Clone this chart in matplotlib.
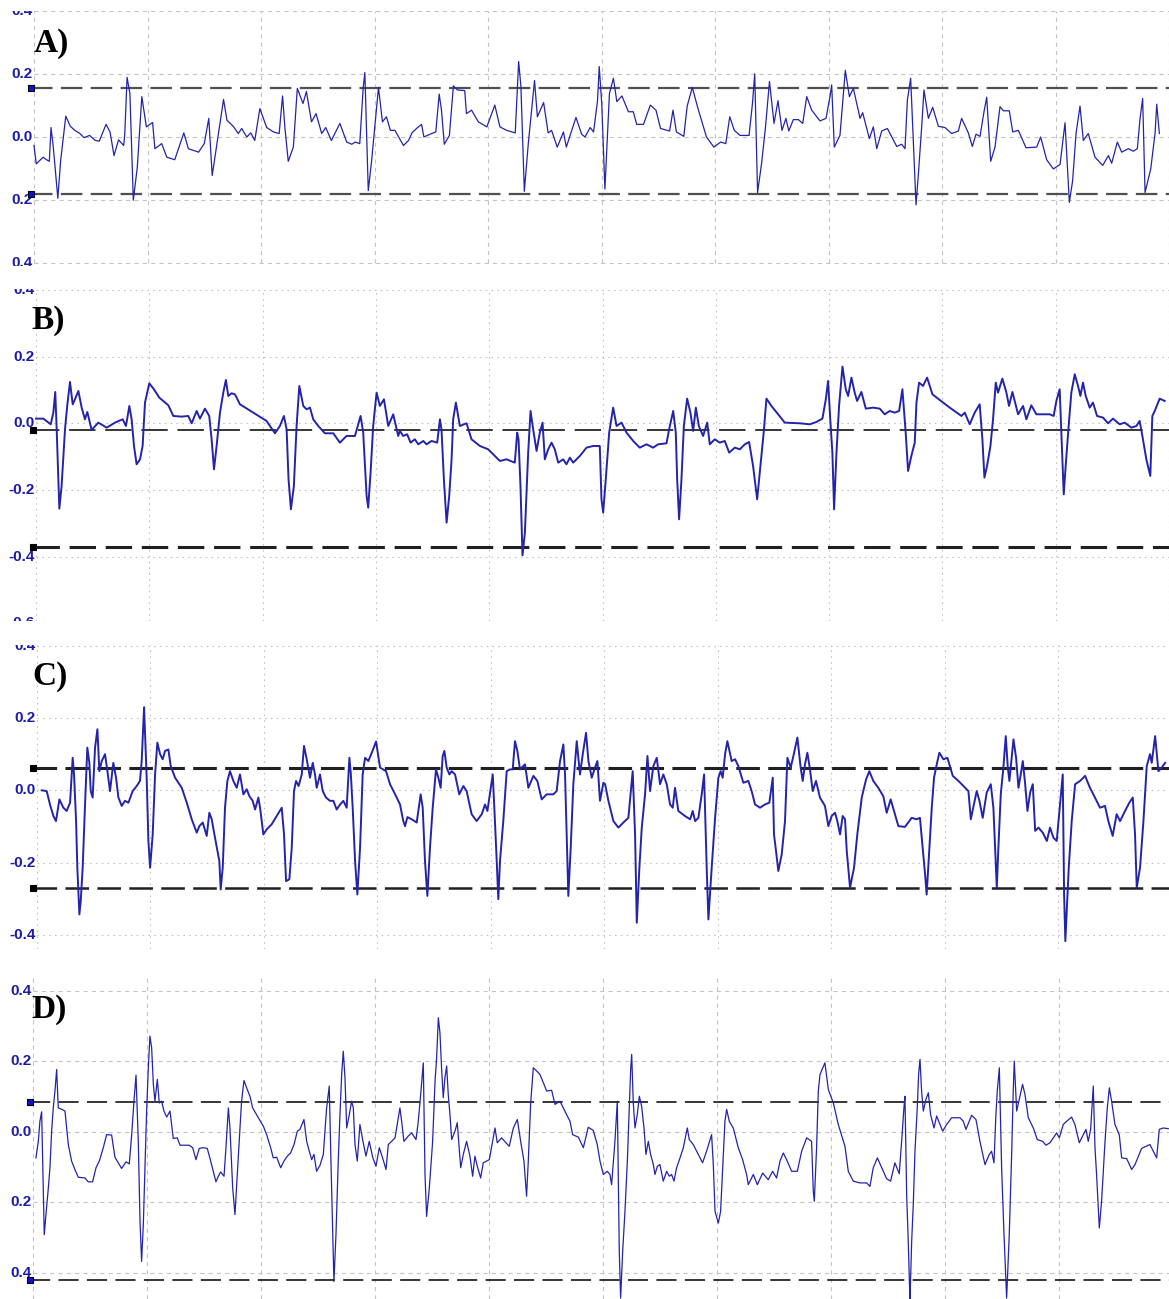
import matplotlib.pyplot as plt

plt.rcParams['lines.scale_dashes'] = False

W, H = 1169, 1299

# sygnaly (czas w dzialkach siatki, amplituda)
sig_a = [(0.00, -0.027), (0.02, -0.085), (0.08, -0.064), (0.11, -0.072), (0.135, -0.077), (0.15, 0.030),
         (0.17, -0.032), (0.21, -0.194), (0.235, -0.074), (0.28, 0.066), (0.32, 0.034), (0.36, 0.021),
         (0.405, 0.011), (0.44, -0.002), (0.49, 0.005), (0.54, -0.011), (0.575, -0.013), (0.635, 0.040),
         (0.67, 0.016), (0.705, -0.059), (0.745, -0.009), (0.79, -0.027), (0.80, 0.011), (0.82, 0.189),
         (0.845, 0.138), (0.875, -0.200), (0.91, -0.096), (0.95, 0.128), (0.99, 0.032), (1.045, 0.046),
         (1.065, -0.037), (1.125, -0.021), (1.17, -0.064), (1.24, -0.072), (1.32, 0.013), (1.36, -0.037),
         (1.45, -0.048), (1.50, -0.021), (1.54, 0.059), (1.57, -0.122), (1.625, 0.011), (1.67, 0.119),
         (1.70, 0.053), (1.755, 0.034), (1.80, 0.011), (1.83, 0.027), (1.875, 0.0), (1.91, 0.013),
         (1.945, -0.011), (1.99, 0.090), (2.05, 0.030), (2.11, 0.016), (2.16, 0.011), (2.19, 0.130),
         (2.21, 0.032), (2.24, -0.077), (2.285, -0.032), (2.32, 0.154), (2.37, 0.106), (2.40, 0.144),
         (2.445, 0.048), (2.485, 0.074), (2.535, 0.011), (2.57, 0.030), (2.62, -0.011), (2.695, 0.043),
         (2.755, -0.016), (2.80, -0.023), (2.83, -0.016), (2.87, -0.021), (2.90, 0.154), (2.915, 0.204),
         (2.945, -0.170), (2.975, -0.074), (3.035, 0.157), (3.07, 0.048), (3.105, 0.064), (3.14, 0.021),
         (3.18, 0.021), (3.225, -0.008), (3.255, -0.027), (3.30, -0.011), (3.33, 0.013), (3.37, 0.027),
         (3.415, 0.040), (3.435, 0.0), (3.49, 0.009), (3.54, 0.016), (3.57, 0.136), (3.59, 0.085),
         (3.615, -0.023), (3.66, 0.005), (3.695, 0.162), (3.73, 0.149), (3.795, 0.147), (3.81, 0.074),
         (3.855, 0.085), (3.915, 0.048), (3.99, 0.032), (4.06, 0.101), (4.105, 0.032), (4.165, 0.021),
         (4.24, 0.013), (4.27, 0.239), (4.29, 0.160), (4.32, -0.172), (4.355, -0.021), (4.41, 0.179),
         (4.435, 0.064), (4.49, 0.109), (4.53, 0.013), (4.56, 0.021), (4.61, -0.032), (4.665, 0.016),
         (4.69, -0.032), (4.775, 0.062), (4.825, 0.009), (4.855, 0.0), (4.90, 0.030), (4.93, 0.016),
         (4.965, 0.115), (4.98, 0.223), (5.002, 0.106), (5.03, -0.165), (5.07, 0.138), (5.105, 0.186),
         (5.135, 0.112), (5.18, 0.130), (5.237, 0.080), (5.28, 0.080), (5.31, 0.040), (5.37, 0.040),
         (5.43, 0.101), (5.48, 0.085), (5.52, 0.027), (5.60, 0.019), (5.63, 0.085), (5.66, 0.016),
         (5.725, 0.002), (5.755, 0.098), (5.80, 0.157), (5.85, 0.090), (5.925, 0.0), (5.99, -0.032),
         (6.05, -0.016), (6.095, -0.021), (6.13, 0.064), (6.17, 0.021), (6.22, 0.005), (6.30, 0.005),
         (6.33, 0.106), (6.35, 0.200), (6.375, -0.176), (6.41, -0.085), (6.445, 0.032), (6.48, 0.176),
         (6.52, 0.043), (6.555, 0.115), (6.59, 0.021), (6.625, 0.059), (6.65, 0.019), (6.69, 0.055),
         (6.735, 0.055), (6.773, 0.043), (6.808, 0.128), (6.852, 0.085), (6.925, 0.051), (6.978, 0.059),
         (7.013, 0.128), (7.028, 0.165), (7.051, -0.032), (7.101, 0.005), (7.131, 0.138), (7.148, 0.211),
         (7.184, 0.128), (7.219, 0.154), (7.278, 0.059), (7.301, 0.077), (7.36, -0.005), (7.395, 0.032),
         (7.425, -0.037), (7.469, 0.019), (7.519, 0.027), (7.601, -0.030), (7.645, -0.023), (7.674, -0.037),
         (7.695, 0.117), (7.724, 0.186), (7.771, -0.215), (7.792, -0.117), (7.821, 0.032), (7.841, 0.149),
         (7.88, 0.059), (7.918, 0.094), (7.968, 0.034), (8.026, 0.030), (8.085, 0.011), (8.144, 0.019),
         (8.173, 0.059), (8.232, 0.013), (8.267, -0.030), (8.30, 0.009), (8.335, 0.002), (8.37, 0.080),
         (8.394, 0.126), (8.429, -0.077), (8.467, -0.032), (8.511, 0.096), (8.541, 0.083), (8.593, 0.083),
         (8.623, 0.016), (8.673, 0.021), (8.74, -0.034), (8.834, -0.032), (8.869, 0.0), (8.922, -0.072),
         (8.981, -0.101), (9.04, -0.087), (9.084, 0.045), (9.122, -0.207), (9.151, -0.138), (9.181, 0.011),
         (9.216, 0.098), (9.245, -0.011), (9.289, 0.011), (9.348, -0.064), (9.416, -0.090), (9.466, -0.059),
         (9.495, -0.083), (9.545, -0.016), (9.583, -0.048), (9.642, -0.037), (9.686, -0.045), (9.721, -0.037),
         (9.745, 0.059), (9.768, 0.122), (9.789, -0.176), (9.839, -0.101), (9.877, 0.011), (9.892, 0.104),
         (9.915, 0.011)]

sig_b = [(0.0, 0.014), (0.065, 0.014), (0.13, -0.003), (0.153, 0.032), (0.17, 0.094), (0.182, -0.013),
         (0.206, -0.256), (0.226, -0.188), (0.256, -0.018), (0.276, 0.054), (0.30, 0.124), (0.324, 0.057),
         (0.344, 0.072), (0.374, 0.097), (0.403, 0.047), (0.432, 0.012), (0.453, 0.034), (0.491, -0.020),
         (0.55, 0.002), (0.624, -0.013), (0.697, 0.002), (0.765, 0.012), (0.794, -0.008), (0.824, 0.052),
         (0.844, 0.012), (0.865, -0.068), (0.888, -0.123), (0.918, -0.108), (0.941, -0.068), (0.962, 0.062),
         (1.00, 0.120), (1.041, 0.102), (1.088, 0.077), (1.168, 0.054), (1.212, 0.022), (1.285, 0.020),
         (1.344, 0.022), (1.374, 0.0), (1.418, 0.037), (1.447, 0.014), (1.491, 0.044), (1.529, 0.022),
         (1.55, -0.048), (1.571, -0.138), (1.594, -0.068), (1.624, 0.032), (1.653, 0.092), (1.676, 0.130),
         (1.697, 0.082), (1.726, 0.090), (1.756, 0.087), (1.80, 0.057), (1.918, 0.032), (2.035, 0.007),
         (2.109, -0.030), (2.153, -0.008), (2.188, 0.022), (2.212, -0.018), (2.229, -0.168), (2.25, -0.258),
         (2.276, -0.188), (2.30, -0.008), (2.324, 0.112), (2.359, 0.052), (2.388, 0.042), (2.418, 0.047),
         (2.447, 0.012), (2.491, -0.008), (2.55, -0.030), (2.624, -0.030), (2.682, -0.058), (2.741, -0.038),
         (2.815, -0.038), (2.865, 0.022), (2.888, -0.028), (2.918, -0.218), (2.932, -0.253), (2.953, -0.148),
         (2.976, -0.008), (3.006, 0.092), (3.035, 0.052), (3.071, 0.072), (3.109, -0.008), (3.153, 0.027),
         (3.197, -0.038), (3.212, -0.023), (3.241, -0.038), (3.276, -0.033), (3.306, -0.058), (3.344, -0.048),
         (3.374, -0.063), (3.418, -0.053), (3.447, -0.063), (3.491, -0.053), (3.541, -0.058), (3.565, 0.012),
         (3.579, -0.018), (3.60, -0.168), (3.624, -0.298), (3.647, -0.218), (3.668, -0.108), (3.682, 0.012),
         (3.706, 0.062), (3.726, 0.022), (3.741, -0.008), (3.80, 0.0), (3.844, -0.048), (3.918, -0.068),
         (3.991, -0.078), (4.035, -0.093), (4.094, -0.113), (4.153, -0.108), (4.226, -0.118), (4.247, -0.028),
         (4.259, -0.048), (4.276, -0.188), (4.294, -0.396), (4.315, -0.328), (4.344, -0.088), (4.365, 0.037),
         (4.388, -0.018), (4.418, -0.083), (4.447, -0.028), (4.471, 0.002), (4.491, -0.108), (4.521, -0.078),
         (4.55, -0.058), (4.579, -0.078), (4.609, -0.118), (4.653, -0.108), (4.682, -0.123), (4.712, -0.103),
         (4.741, -0.118), (4.80, -0.098), (4.859, -0.073), (4.918, -0.068), (4.976, -0.068), (4.991, -0.228),
         (5.006, -0.268), (5.029, -0.168), (5.059, -0.028), (5.094, 0.047), (5.124, -0.008), (5.168, 0.002),
         (5.212, -0.028), (5.271, -0.053), (5.329, -0.073), (5.388, -0.063), (5.447, -0.073), (5.491, -0.063),
         (5.565, -0.060), (5.588, -0.018), (5.624, 0.037), (5.647, -0.028), (5.659, -0.168), (5.676, -0.288),
         (5.697, -0.168), (5.718, -0.008), (5.747, 0.074), (5.776, 0.032), (5.80, -0.023), (5.824, 0.047),
         (5.85, -0.008), (5.888, -0.038), (5.924, 0.002), (5.947, -0.063), (5.991, -0.048), (6.035, -0.058),
         (6.079, -0.053), (6.118, -0.088), (6.168, -0.073), (6.212, -0.078), (6.256, -0.063), (6.294, -0.056),
         (6.329, -0.128), (6.365, -0.228), (6.394, -0.128), (6.424, -0.023), (6.447, 0.074), (6.491, 0.052),
         (6.55, 0.027), (6.609, 0.002), (6.741, 0.0), (6.829, -0.003), (6.888, 0.004), (6.941, 0.014),
         (6.971, 0.072), (6.991, 0.127), (7.012, 0.002), (7.029, -0.088), (7.044, -0.258), (7.065, -0.088),
         (7.088, 0.052), (7.118, 0.170), (7.147, 0.102), (7.168, 0.082), (7.197, 0.137), (7.226, 0.092),
         (7.247, 0.067), (7.285, 0.094), (7.324, 0.044), (7.388, 0.047), (7.447, 0.044), (7.491, 0.027),
         (7.535, 0.037), (7.579, 0.032), (7.618, 0.037), (7.647, 0.102), (7.676, -0.028), (7.697, -0.143),
         (7.726, -0.098), (7.756, -0.058), (7.771, 0.062), (7.794, 0.122), (7.829, 0.112), (7.865, 0.137),
         (7.912, 0.087), (7.976, 0.070), (8.065, 0.047), (8.168, 0.022), (8.197, 0.032), (8.241, -0.003),
         (8.285, 0.032), (8.329, 0.057), (8.353, -0.048), (8.371, -0.163), (8.394, -0.128), (8.424, -0.068),
         (8.447, 0.012), (8.471, 0.122), (8.491, 0.092), (8.529, 0.134), (8.565, 0.092), (8.588, 0.052),
         (8.618, 0.094), (8.668, 0.027), (8.712, 0.052), (8.741, 0.012), (8.785, 0.054), (8.829, 0.027),
         (8.888, 0.027), (8.947, 0.027), (8.982, 0.022), (9.006, 0.067), (9.035, 0.102), (9.05, -0.028),
         (9.071, -0.213), (9.088, -0.128), (9.112, -0.018), (9.138, 0.092), (9.168, 0.147), (9.197, 0.112),
         (9.218, 0.082), (9.241, 0.122), (9.265, 0.082), (9.30, 0.047), (9.329, 0.062), (9.365, 0.022),
         (9.418, 0.017), (9.462, 0.0), (9.506, 0.014), (9.565, -0.003), (9.609, 0.002), (9.668, -0.013),
         (9.712, -0.008), (9.741, 0.007), (9.765, -0.038), (9.80, -0.108), (9.835, -0.158), (9.853, 0.022),
         (9.874, 0.037), (9.918, 0.074), (9.962, 0.067)]

sig_c = [(0.044, 0.0), (0.088, -0.002), (0.117, -0.039), (0.147, -0.071), (0.170, -0.085), (0.200, -0.025),
         (0.235, -0.048), (0.264, -0.057), (0.294, -0.034), (0.317, 0.090), (0.329, 0.044), (0.347, -0.085),
         (0.358, -0.214), (0.376, -0.343), (0.388, -0.306), (0.405, -0.214), (0.426, -0.039), (0.446, 0.118),
         (0.464, 0.076), (0.476, -0.002), (0.493, -0.020), (0.514, 0.118), (0.535, 0.169), (0.552, 0.053),
         (0.573, 0.081), (0.602, 0.100), (0.623, 0.053), (0.646, -0.002), (0.675, 0.076), (0.699, 0.035),
         (0.720, -0.020), (0.749, -0.043), (0.778, -0.029), (0.808, -0.034), (0.846, -0.002), (0.881, 0.012),
         (0.910, 0.026), (0.925, 0.081), (0.946, 0.230), (0.969, 0.035), (0.984, -0.140), (0.999, -0.214),
         (1.022, -0.122), (1.043, 0.044), (1.063, 0.132), (1.087, 0.100), (1.110, 0.086), (1.131, 0.109),
         (1.160, 0.113), (1.181, 0.067), (1.219, 0.035), (1.278, 0.007), (1.322, -0.034), (1.366, -0.080),
         (1.410, -0.117), (1.433, -0.099), (1.463, -0.089), (1.498, -0.126), (1.521, -0.062), (1.542, -0.080),
         (1.571, -0.131), (1.609, -0.195), (1.621, -0.274), (1.639, -0.214), (1.659, -0.048), (1.680, 0.026),
         (1.703, 0.053), (1.733, 0.026), (1.762, 0.007), (1.791, 0.044), (1.821, -0.011), (1.850, 0.003),
         (1.874, -0.016), (1.903, -0.029), (1.924, -0.053), (1.953, -0.020), (1.968, -0.048), (1.997, -0.122),
         (2.026, -0.108), (2.070, -0.094), (2.115, -0.071), (2.159, -0.048), (2.179, -0.122), (2.197, -0.251),
         (2.226, -0.246), (2.247, -0.159), (2.267, -0.002), (2.285, 0.026), (2.308, 0.012), (2.335, 0.044),
         (2.355, 0.123), (2.379, 0.086), (2.408, 0.035), (2.432, 0.076), (2.452, 0.044), (2.467, 0.007),
         (2.496, 0.044), (2.520, -0.002), (2.549, -0.020), (2.584, -0.029), (2.614, -0.029), (2.643, -0.053),
         (2.673, -0.039), (2.702, -0.029), (2.731, -0.048), (2.755, 0.090), (2.767, 0.049), (2.784, -0.048),
         (2.805, -0.195), (2.825, -0.288), (2.849, -0.159), (2.872, 0.044), (2.893, 0.090), (2.922, 0.081),
         (2.952, 0.104), (2.990, 0.135), (3.025, 0.063), (3.078, 0.053), (3.113, 0.017), (3.172, -0.020),
         (3.201, -0.039), (3.230, -0.085), (3.245, -0.099), (3.266, -0.074), (3.304, -0.080), (3.348, -0.089),
         (3.383, -0.011), (3.401, -0.048), (3.421, -0.195), (3.442, -0.292), (3.465, -0.159), (3.489, -0.048),
         (3.518, 0.058), (3.539, 0.035), (3.559, 0.007), (3.577, 0.095), (3.592, 0.109), (3.612, 0.063),
         (3.636, 0.044), (3.656, 0.053), (3.686, 0.044), (3.723, -0.011), (3.759, 0.012), (3.788, -0.002),
         (3.832, -0.066), (3.876, -0.085), (3.921, -0.066), (3.950, -0.039), (3.971, -0.057), (4.018, 0.044),
         (4.032, -0.048), (4.053, -0.195), (4.067, -0.301), (4.082, -0.195), (4.111, -0.085), (4.141, 0.053),
         (4.170, 0.058), (4.194, 0.058), (4.214, 0.136), (4.235, 0.109), (4.258, 0.058), (4.302, 0.072),
         (4.332, 0.007), (4.376, 0.040), (4.411, 0.026), (4.449, -0.025), (4.493, -0.011), (4.552, -0.011),
         (4.581, -0.002), (4.611, 0.081), (4.640, 0.127), (4.655, 0.044), (4.669, -0.122), (4.684, -0.292),
         (4.705, -0.159), (4.728, 0.017), (4.758, 0.136), (4.787, 0.044), (4.811, 0.100), (4.840, 0.159),
         (4.861, 0.081), (4.890, 0.035), (4.919, 0.063), (4.940, 0.081), (4.963, -0.029), (4.993, 0.021),
         (5.008, 0.017), (5.037, -0.029), (5.081, -0.085), (5.125, -0.103), (5.169, -0.089), (5.213, -0.076),
         (5.251, 0.053), (5.272, -0.122), (5.287, -0.366), (5.310, -0.214), (5.331, -0.103), (5.360, -0.011),
         (5.381, 0.095), (5.404, -0.002), (5.433, 0.067), (5.463, 0.090), (5.492, 0.017), (5.521, 0.044),
         (5.551, 0.017), (5.580, -0.039), (5.604, -0.048), (5.624, 0.007), (5.653, -0.057), (5.712, -0.071),
         (5.757, -0.080), (5.780, -0.057), (5.801, -0.085), (5.830, -0.076), (5.859, -0.011), (5.880, 0.044),
         (5.903, -0.214), (5.918, -0.357), (5.947, -0.214), (5.977, -0.076), (6.006, 0.035), (6.026, 0.053),
         (6.044, 0.035), (6.065, 0.100), (6.085, 0.136), (6.123, 0.081), (6.153, 0.086), (6.182, 0.067),
         (6.226, 0.021), (6.270, 0.026), (6.299, -0.002), (6.329, -0.039), (6.373, -0.048), (6.417, -0.039),
         (6.455, -0.034), (6.485, 0.035), (6.496, -0.122), (6.514, -0.168), (6.534, -0.223), (6.564, -0.177),
         (6.593, -0.085), (6.614, 0.090), (6.643, 0.063), (6.667, 0.095), (6.702, 0.146), (6.731, 0.063),
         (6.749, 0.026), (6.769, 0.072), (6.790, 0.104), (6.813, 0.058), (6.837, -0.002), (6.866, 0.026),
         (6.901, -0.020), (6.945, -0.043), (6.975, -0.099), (7.004, -0.071), (7.034, -0.062), (7.054, -0.085),
         (7.078, -0.122), (7.101, -0.071), (7.122, -0.080), (7.137, -0.168), (7.166, -0.269), (7.201, -0.214),
         (7.230, -0.122), (7.269, -0.020), (7.307, 0.030), (7.336, 0.053), (7.371, 0.026), (7.415, 0.007),
         (7.459, -0.016), (7.489, -0.062), (7.524, -0.025), (7.562, -0.066), (7.592, -0.099), (7.650, -0.101),
         (7.709, -0.076), (7.753, -0.080), (7.782, -0.076), (7.806, -0.159), (7.827, -0.232), (7.841, -0.288),
         (7.865, -0.159), (7.886, -0.048), (7.906, 0.035), (7.930, 0.072), (7.953, 0.104), (7.988, 0.086),
         (8.024, 0.090), (8.071, 0.040), (8.121, 0.026), (8.165, 0.012), (8.209, -0.002), (8.230, -0.080),
         (8.282, -0.002), (8.306, -0.029), (8.335, -0.076), (8.370, -0.006), (8.406, 0.017), (8.429, -0.048),
         (8.444, -0.159), (8.459, -0.269), (8.473, -0.159), (8.494, -0.011), (8.517, 0.063), (8.538, 0.150),
         (8.556, 0.063), (8.570, 0.026), (8.606, 0.141), (8.629, 0.090), (8.650, 0.007), (8.670, 0.044),
         (8.688, 0.081), (8.709, 0.017), (8.729, -0.057), (8.753, -0.006), (8.776, 0.017), (8.797, -0.112),
         (8.826, -0.103), (8.864, -0.117), (8.900, -0.140), (8.928, -0.103), (8.958, -0.131), (8.987, -0.140),
         (9.022, -0.020), (9.040, 0.044), (9.052, -0.288), (9.063, -0.417), (9.075, -0.334), (9.093, -0.214),
         (9.119, -0.085), (9.149, 0.017), (9.193, 0.026), (9.237, 0.040), (9.280, 0.007), (9.324, -0.020),
         (9.368, -0.048), (9.412, -0.043), (9.442, -0.085), (9.480, -0.126), (9.515, -0.066), (9.545, -0.085),
         (9.589, -0.057), (9.627, -0.034), (9.657, -0.020), (9.677, -0.122), (9.692, -0.269), (9.721, -0.214),
         (9.751, -0.085), (9.780, 0.067), (9.809, 0.100), (9.824, 0.076), (9.854, 0.150), (9.883, 0.053),
         (9.912, 0.063), (9.942, 0.076)]

sig_d = [(0.023, -0.074), (0.044, -0.027), (0.058, 0.030), (0.073, 0.057), (0.082, -0.083), (0.096, -0.292),
         (0.111, -0.235), (0.132, -0.159), (0.146, -0.102), (0.161, 0.002), (0.175, 0.068), (0.190, 0.116),
         (0.205, 0.177), (0.219, 0.068), (0.249, 0.064), (0.278, 0.059), (0.307, -0.036), (0.336, -0.083),
         (0.365, -0.107), (0.395, -0.129), (0.453, -0.131), (0.482, -0.142), (0.520, -0.142), (0.550, -0.102),
         (0.579, -0.083), (0.614, -0.045), (0.643, -0.008), (0.687, -0.009), (0.716, -0.072), (0.754, -0.093),
         (0.775, -0.104), (0.813, -0.085), (0.842, -0.091), (0.863, -0.008), (0.883, 0.087), (0.901, 0.161),
         (0.921, -0.027), (0.936, -0.254), (0.950, -0.368), (0.965, -0.264), (0.980, -0.102), (0.994, 0.059),
         (1.009, 0.182), (1.023, 0.272), (1.038, 0.239), (1.053, 0.135), (1.067, 0.087), (1.088, 0.149),
         (1.105, 0.082), (1.126, 0.087), (1.146, 0.059), (1.170, 0.042), (1.199, 0.059), (1.228, -0.019),
         (1.263, -0.017), (1.287, -0.038), (1.330, -0.038), (1.368, -0.038), (1.398, -0.045), (1.427, -0.079),
         (1.456, -0.047), (1.491, -0.045), (1.526, -0.047), (1.556, -0.083), (1.602, -0.142), (1.623, -0.126),
         (1.643, -0.114), (1.673, -0.126), (1.690, -0.045), (1.711, 0.068), (1.725, 0.011), (1.749, -0.159),
         (1.769, -0.235), (1.789, -0.121), (1.813, 0.011), (1.827, 0.087), (1.848, 0.146), (1.877, 0.120),
         (1.901, 0.101), (1.924, 0.068), (1.974, 0.040), (2.018, 0.016), (2.047, -0.008), (2.082, -0.045),
         (2.105, -0.074), (2.135, -0.072), (2.170, -0.102), (2.199, -0.083), (2.228, -0.069), (2.257, -0.060),
         (2.287, -0.036), (2.316, 0.002), (2.339, 0.007), (2.374, 0.035), (2.398, -0.027), (2.421, -0.055),
         (2.442, -0.079), (2.462, -0.064), (2.485, -0.112), (2.515, -0.095), (2.544, -0.064), (2.573, 0.068),
         (2.596, 0.130), (2.611, -0.083), (2.626, -0.282), (2.637, -0.425), (2.655, -0.292), (2.675, -0.083),
         (2.690, 0.049), (2.705, 0.163), (2.719, 0.229), (2.734, 0.154), (2.749, 0.011), (2.772, 0.049),
         (2.792, 0.087), (2.807, 0.068), (2.822, -0.036), (2.842, -0.083), (2.865, 0.021), (2.889, -0.022),
         (2.918, -0.069), (2.947, -0.027), (2.977, -0.072), (3.006, -0.098), (3.035, -0.045), (3.064, -0.074),
         (3.094, -0.107), (3.114, -0.036), (3.143, -0.027), (3.173, -0.017), (3.202, 0.040), (3.216, 0.068),
         (3.231, 0.030), (3.251, -0.027), (3.289, -0.012), (3.319, -0.003), (3.357, -0.022), (3.377, 0.030),
         (3.398, 0.106), (3.421, 0.196), (3.436, -0.121), (3.450, -0.240), (3.474, -0.159), (3.503, -0.027),
         (3.524, 0.144), (3.538, 0.210), (3.553, 0.324), (3.567, 0.282), (3.582, 0.177), (3.596, 0.097),
         (3.611, 0.154), (3.626, 0.187), (3.640, 0.106), (3.655, 0.049), (3.670, -0.022), (3.699, 0.002),
         (3.719, 0.026), (3.749, -0.102), (3.772, -0.064), (3.801, -0.027), (3.830, -0.069), (3.854, -0.126),
         (3.874, -0.069), (3.895, -0.098), (3.924, -0.131), (3.947, -0.088), (3.977, -0.083), (4.000, -0.079),
         (4.029, -0.027), (4.050, 0.011), (4.070, -0.031), (4.108, -0.017), (4.146, -0.031), (4.175, -0.041),
         (4.211, 0.011), (4.246, 0.035), (4.275, -0.027), (4.304, -0.083), (4.327, -0.183), (4.342, -0.083),
         (4.363, 0.082), (4.386, 0.182), (4.415, 0.173), (4.444, 0.163), (4.480, 0.135), (4.503, 0.116),
         (4.547, 0.118), (4.576, 0.078), (4.620, 0.087), (4.655, 0.064), (4.684, 0.045), (4.708, 0.030),
         (4.731, -0.008), (4.781, -0.015), (4.825, -0.045), (4.868, 0.013), (4.912, 0.004), (4.947, -0.036),
         (4.971, -0.083), (5.000, -0.121), (5.035, -0.112), (5.058, -0.121), (5.073, -0.150), (5.102, -0.027),
         (5.123, 0.087), (5.140, -0.339), (5.152, -0.472), (5.170, -0.339), (5.190, -0.226), (5.211, -0.083),
         (5.228, 0.068), (5.240, 0.177), (5.249, 0.220), (5.263, 0.082), (5.278, 0.011), (5.298, 0.049),
         (5.316, 0.101), (5.336, 0.073), (5.357, 0.011), (5.374, -0.064), (5.395, -0.027), (5.415, -0.064),
         (5.439, -0.093), (5.453, -0.121), (5.474, -0.098), (5.497, -0.093), (5.526, -0.140), (5.556, -0.112),
         (5.579, -0.126), (5.599, -0.121), (5.620, -0.140), (5.643, -0.102), (5.673, -0.074), (5.702, -0.045),
         (5.737, 0.011), (5.754, -0.022), (5.789, -0.036), (5.833, -0.064), (5.871, -0.088), (5.906, -0.055),
         (5.950, -0.008), (5.965, -0.093), (5.980, -0.226), (6.009, -0.259), (6.029, -0.226), (6.047, -0.102),
         (6.067, 0.030), (6.082, 0.064), (6.105, 0.030), (6.140, 0.011), (6.184, -0.045), (6.222, -0.079),
         (6.257, -0.121), (6.272, -0.150), (6.316, -0.121), (6.351, -0.150), (6.398, -0.117), (6.447, -0.136),
         (6.485, -0.112), (6.520, -0.131), (6.550, -0.083), (6.579, -0.060), (6.608, -0.079), (6.652, -0.112),
         (6.702, -0.112), (6.740, -0.055), (6.784, -0.017), (6.827, -0.027), (6.842, -0.169), (6.851, -0.197),
         (6.871, -0.045), (6.886, 0.116), (6.901, 0.163), (6.944, 0.196), (6.974, 0.120), (7.018, 0.082),
         (7.061, 0.021), (7.120, -0.041), (7.149, -0.112), (7.193, -0.140), (7.251, -0.145), (7.310, -0.145),
         (7.339, -0.155), (7.368, -0.102), (7.404, -0.074), (7.442, -0.102), (7.485, -0.133), (7.520, -0.140),
         (7.558, -0.088), (7.596, -0.119), (7.617, -0.027), (7.637, 0.068), (7.646, 0.101), (7.661, -0.178),
         (7.675, -0.311), (7.690, -0.482), (7.705, -0.311), (7.719, -0.207), (7.734, -0.055), (7.754, 0.068),
         (7.766, 0.163), (7.778, 0.206), (7.792, 0.116), (7.807, 0.059), (7.830, 0.092), (7.851, 0.111),
         (7.871, 0.049), (7.901, 0.011), (7.924, 0.045), (7.977, 0.002), (8.012, 0.021), (8.056, 0.040),
         (8.129, 0.040), (8.158, 0.030), (8.181, 0.007), (8.231, 0.047), (8.269, 0.035), (8.304, -0.027),
         (8.348, -0.093), (8.386, -0.064), (8.406, -0.055), (8.427, -0.088), (8.444, 0.049), (8.456, 0.116),
         (8.474, 0.182), (8.494, -0.102), (8.515, -0.292), (8.538, -0.472), (8.561, -0.292), (8.582, -0.064),
         (8.596, 0.116), (8.605, 0.201), (8.626, 0.059), (8.649, 0.092), (8.678, 0.135), (8.699, 0.106),
         (8.728, 0.040), (8.772, 0.011), (8.807, -0.022), (8.854, -0.027), (8.883, -0.038), (8.918, -0.031),
         (8.947, -0.017), (8.977, -0.003), (9.000, -0.017), (9.035, 0.021), (9.064, 0.030), (9.108, 0.042),
         (9.137, 0.021), (9.175, -0.031), (9.211, -0.008), (9.234, 0.007), (9.254, -0.027), (9.275, 0.007),
         (9.298, 0.130), (9.313, -0.045), (9.327, -0.121), (9.351, -0.273), (9.371, -0.197), (9.401, -0.027),
         (9.421, 0.068), (9.439, 0.125), (9.459, 0.087), (9.488, 0.021), (9.526, -0.008), (9.547, -0.074),
         (9.591, -0.076), (9.635, -0.107), (9.664, -0.093), (9.722, -0.047), (9.795, -0.036), (9.854, -0.074),
         (9.877, 0.007), (9.912, 0.011), (9.956, 0.009)]

# progi (linie przerywane)
thr_a = [0.155, -0.179]
thr_b = [-0.020, -0.371]
thr_c = [0.063, -0.269]
thr_d = [0.084, -0.420]

# etykiety osi Y
yt_a = [0.4, 0.2, 0.0, -0.2, -0.4]
yl_a = ['0.4', '0.2', '0.0', '0.2', '0.4']
yt_b = [0.4, 0.2, 0.0, -0.2, -0.4, -0.6]
yl_b = ['0.4', '0.2', '0.0', '-0.2', '-0.4', '-0.6']
yt_c = [0.4, 0.2, 0.0, -0.2, -0.4]
yl_c = ['0.4', '0.2', '0.0', '-0.2', '-0.4']
yt_d = [0.4, 0.2, 0.0, -0.2, -0.4]
yl_d = ['0.4', '0.2', '0.0', '0.2', '0.4']

fig = plt.figure(figsize=(W / 100, H / 100), dpi=100)
fig.patch.set_facecolor('white')


def panel(top, bottom, x0, dx, y0, dy):
    # osie pokrywaja caly wycinek zrzutu ekranu, lacznie z miejscem na etykiety
    ax = fig.add_axes([0, 1 - bottom / H, 1, (bottom - top) / H])
    ax.set_xlim(-x0 / dx, (W - x0) / dx)
    ax.set_ylim((y0 - bottom) / dy, (y0 - top) / dy)
    ax.set_xticks([])
    ax.set_yticks([])
    for s in ax.spines.values():
        s.set_visible(False)
    return ax


def draw(ax, sig, thr, yt, yl, letter, letter_xy, grid_ls, vfull, sig_lw, thr_style, mk_face):
    xmax = ax.get_xlim()[1]
    ylo, yhi = ax.get_ylim()
    # siatka
    for v in yt:
        ax.plot([0, xmax], [v, v], color='#c4c4c4', lw=0.8, ls=grid_ls, zorder=1)
    vy = (ylo, yhi) if vfull else (-0.4, 0.4)
    for k in range(11):
        ax.plot([k, k], vy, color='#c4c4c4', lw=0.8, ls=grid_ls, zorder=1)
    # progi
    for v, (lw, col, dash) in zip(thr, thr_style):
        ax.plot([-0.03, xmax], [v, v], color=col, lw=lw, ls=(0, dash), zorder=2)
        ax.plot(-0.03, v, 's', ms=4, mfc=mk_face, mec='black', mew=0.8, zorder=4)
    # sygnal
    t = [p[0] for p in sig]
    a = [p[1] for p in sig]
    ax.plot(t, a, color='#2424aa', lw=sig_lw, zorder=3)
    # etykiety osi
    for v, lab in zip(yt, yl):
        ax.text(-0.012, v, lab, ha='right', va='center', fontsize=11, fontweight='bold',
                color='#1c1ca6', family='Liberation Sans', clip_on=True, zorder=3)
    ax.text(letter_xy[0], letter_xy[1], letter, fontsize=24, fontweight='bold',
            family='Liberation Serif', color='black', zorder=5)


ax_a = panel(10.5, 266, 34, 113.5, 137.0, 315.75)
draw(ax_a, sig_a, thr_a, yt_a, yl_a, 'A)', (0.0, 0.27), (0, (3, 3)), False, 0.9,
     [(1.6, '#505050', (15.5, 6)), (1.6, '#505050', (15.5, 6))], '#1010d0')

ax_b = panel(289, 621, 36, 113.3, 423.3, 333.4)
draw(ax_b, sig_b, thr_b, yt_b, yl_b, 'B)', (-0.044, 0.285), (0, (1.2, 3)), True, 1.4,
     [(1.1, 'black', (19, 7)), (2.2, '#202020', (19, 7))], 'black')

ax_c = panel(645, 949, 36.7, 113.5, 790.35, 361.6)
draw(ax_c, sig_c, thr_c, yt_c, yl_c, 'C)', (-0.041, 0.291), (0, (1.2, 3)), True, 1.4,
     [(2.2, '#202020', (17, 6)), (1.8, '#202020', (17, 6))], 'black')

ax_d = panel(978, 1299, 33.3, 114, 1131.85, 352.1)
draw(ax_d, sig_d, thr_d, yt_d, yl_d, 'D)', (-0.02, 0.324), (0, (3, 3)), True, 0.9,
     [(1.1, 'black', (14.5, 6)), (1.1, 'black', (14.5, 6))], '#1010d0')

fig.savefig('out.png', dpi=100, facecolor='white')
